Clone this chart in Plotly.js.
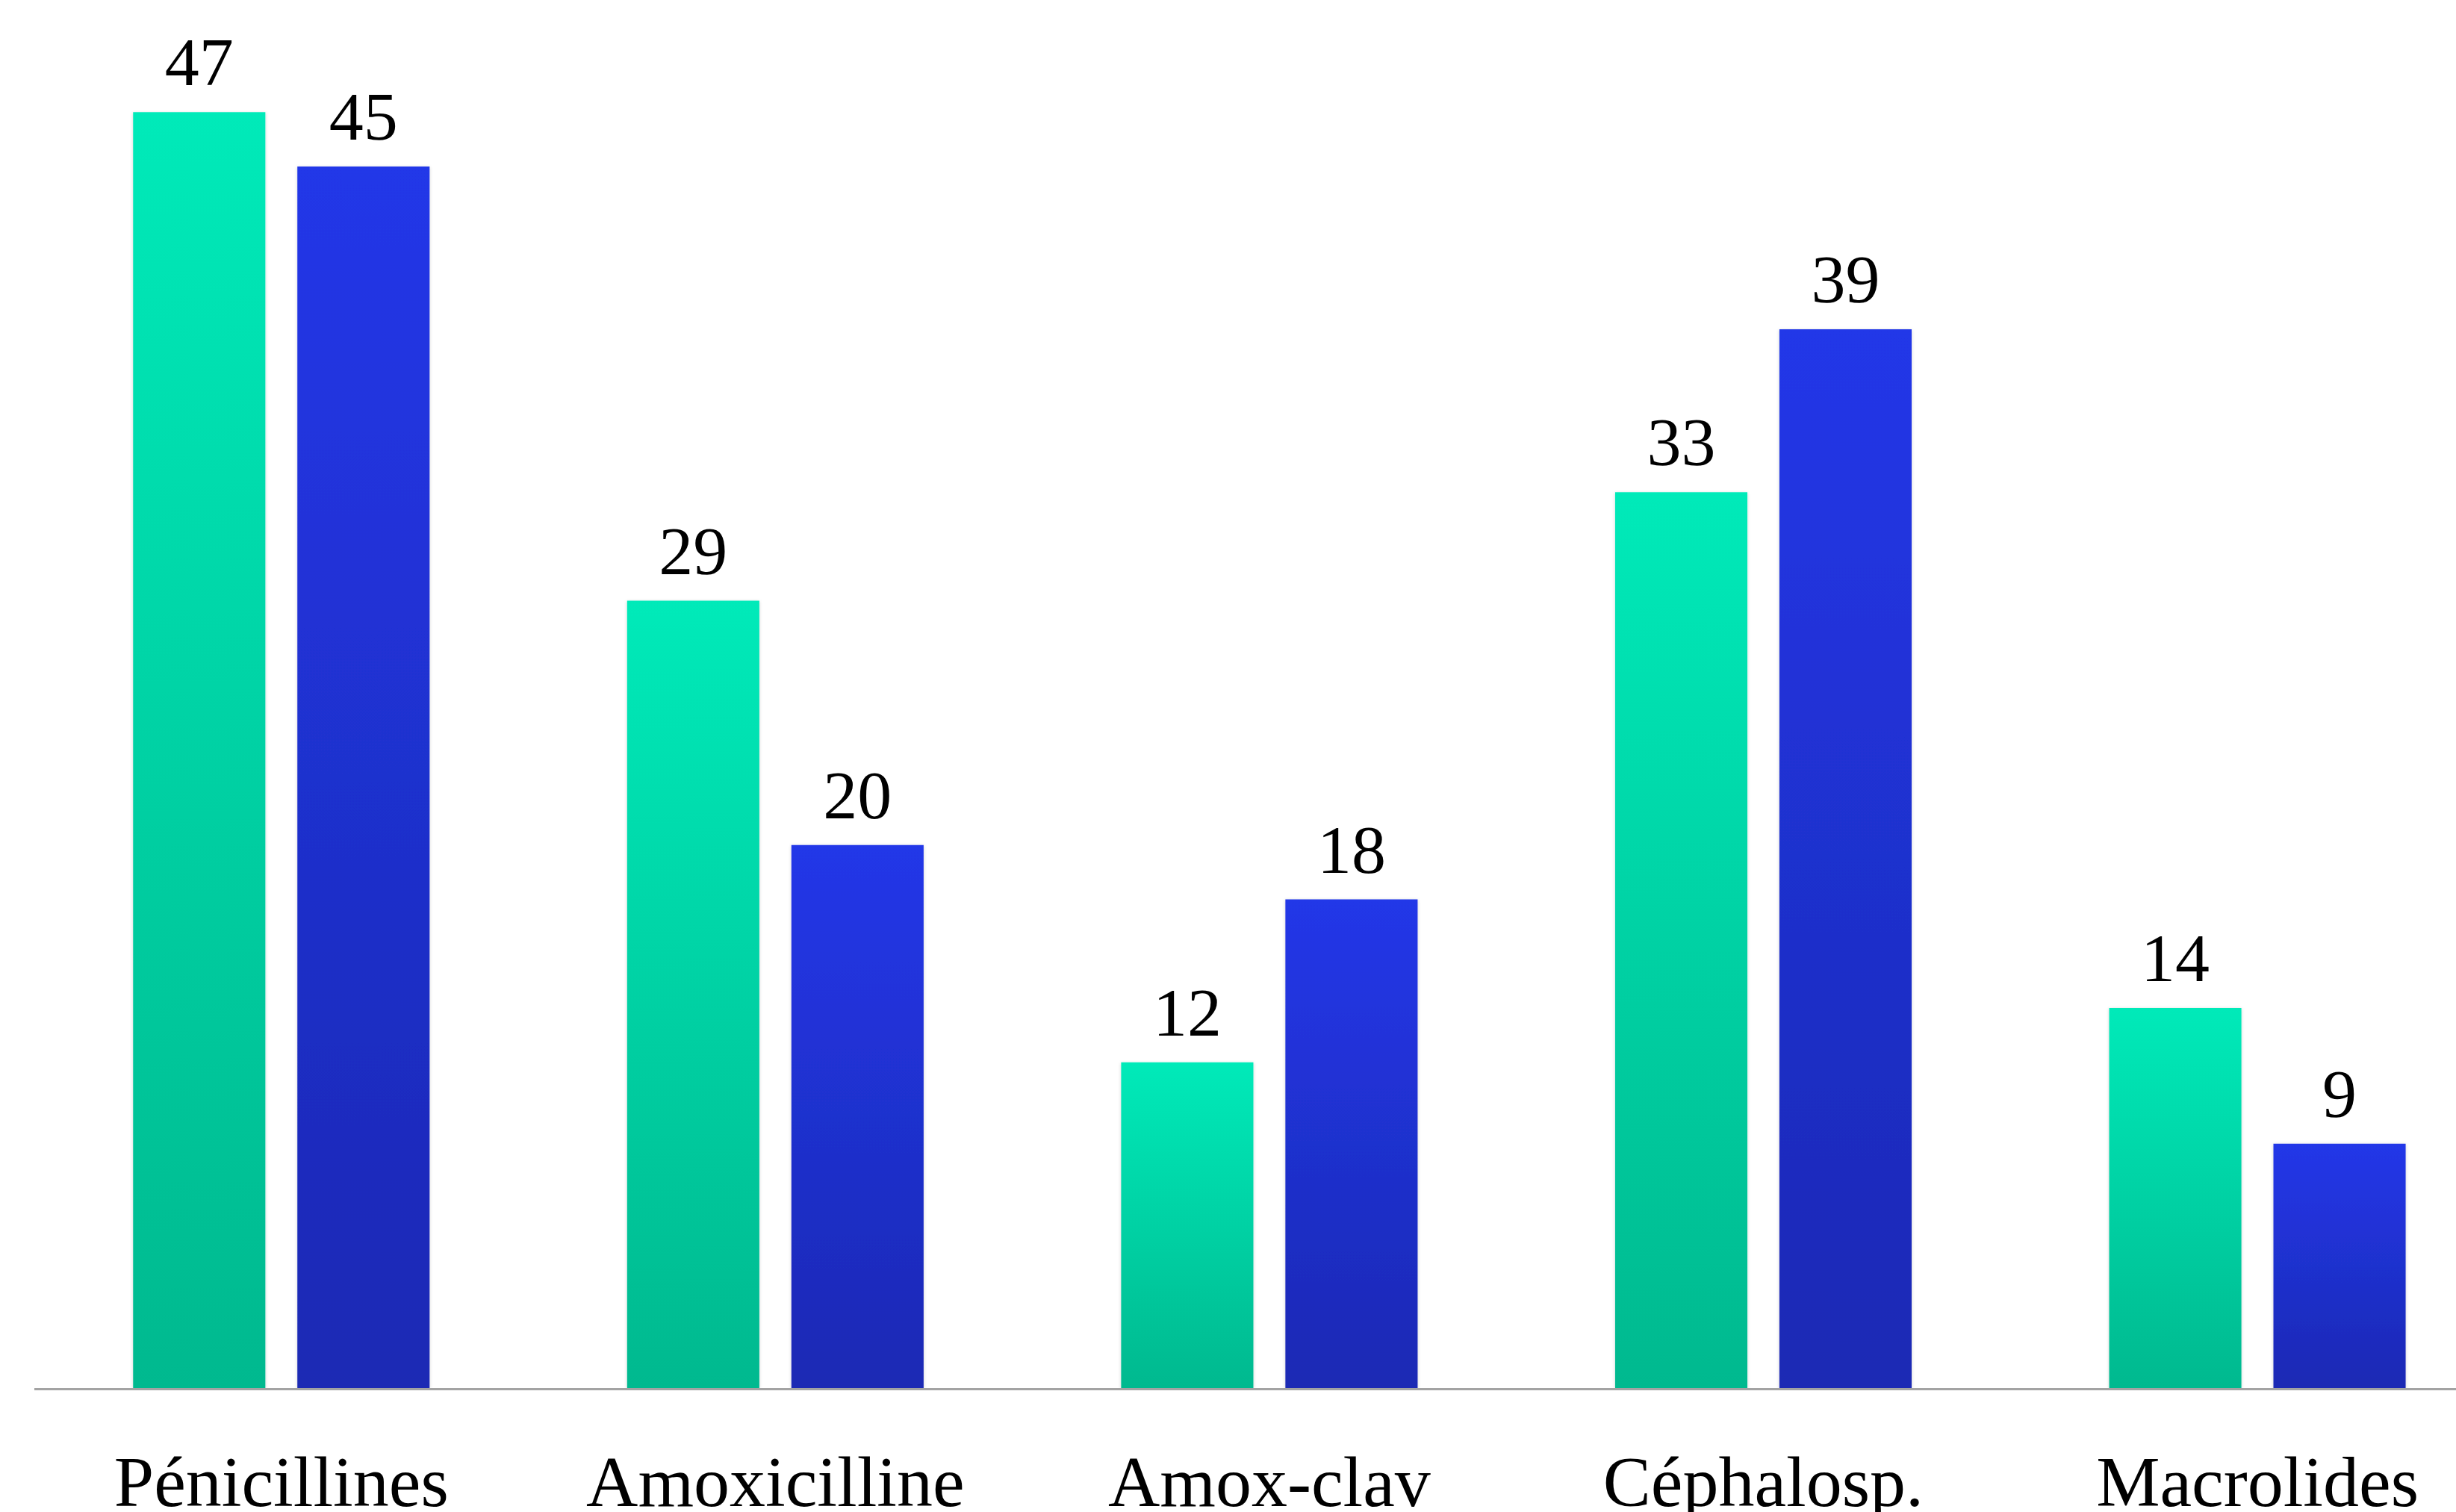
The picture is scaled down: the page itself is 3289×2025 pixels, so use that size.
<!DOCTYPE html>
<html>
<head>
<meta charset="utf-8">
<script src="https://cdn.plot.ly/plotly-3.0.1.min.js"></script>
<style>
  html, body { margin: 0; padding: 0; background: #ffffff; }
  #chart { width: 3289px; height: 2025px; }
</style>
</head>
<body>
<div id="chart"></div>
<script>
// ---- Data ----
const categories = ['Pénicillines', 'Amoxicilline', 'Amox-clav', 'Céphalosp.', 'Macrolides'];
const seriesA = [47, 29, 12, 33, 14];
const seriesB = [45, 20, 18, 39, 9];
const seriesNames = ['Série 1', 'Série 2'];

// ---- Styles ----
const FONT = '"Liberation Serif", "Times New Roman", "DejaVu Serif", serif';
const LABEL_LIFT = 13;
const gradients = [
  { id: 'gradGreen', top: '#00eab9', bottom: '#00b98f', base: '#00d1a4' },
  { id: 'gradBlue',  top: '#2337e8', bottom: '#1b29b4', base: '#1f30ce' }
];

function barTrace(values, name, g) {
  return {
    type: 'bar',
    x: categories,
    y: values,
    name: name,
    marker: { color: g.base, line: { width: 0 } },
    texttemplate: '%{y}',
    textposition: 'outside',
    textfont: { family: FONT, size: 92, color: '#000000' },
    cliponaxis: false,
    hoverinfo: 'x+y'
  };
}

const data = [
  barTrace(seriesA, seriesNames[0], gradients[0]),
  barTrace(seriesB, seriesNames[1], gradients[1])
];

const layout = {
  width: 3289,
  height: 2025,
  margin: { l: 46, r: 0, t: 0, b: 166, pad: 0 },
  paper_bgcolor: '#ffffff',
  plot_bgcolor: '#ffffff',
  showlegend: false,
  barmode: 'group',
  bargap: 0.335,
  bargroupgap: 0.195,
  font: { family: FONT, color: '#000000' },
  xaxis: {
    type: 'category',
    range: [-0.5, 4.402],
    showline: true,
    linecolor: '#a3a3a3',
    linewidth: 3,
    ticks: '',
    showgrid: false,
    zeroline: false,
    tickfont: { family: FONT, size: 96, color: '#000000' },
    ticklabelstandoff: 40,
    fixedrange: true
  },
  yaxis: {
    range: [0, 51.13],
    visible: false,
    showgrid: false,
    zeroline: false,
    fixedrange: true
  }
};

function applyGradients(gd) {
  const svg = gd.querySelector('svg.main-svg');
  if (!svg) return;
  let defs = svg.querySelector('defs');
  const NS = 'http://www.w3.org/2000/svg';
  if (!defs) { defs = document.createElementNS(NS, 'defs'); svg.insertBefore(defs, svg.firstChild); }
  gradients.forEach(g => {
    if (defs.querySelector('#' + g.id)) return;
    const lg = document.createElementNS(NS, 'linearGradient');
    lg.setAttribute('id', g.id);
    lg.setAttribute('x1', '0'); lg.setAttribute('y1', '0');
    lg.setAttribute('x2', '0'); lg.setAttribute('y2', '1');
    [[0, g.top], [1, g.bottom]].forEach(([o, c]) => {
      const st = document.createElementNS(NS, 'stop');
      st.setAttribute('offset', String(o));
      st.setAttribute('stop-color', c);
      lg.appendChild(st);
    });
    defs.appendChild(lg);
  });
  if (!defs.querySelector('#barShadow')) {
    const f = document.createElementNS(NS, 'filter');
    f.setAttribute('id', 'barShadow');
    f.setAttribute('x', '-10%'); f.setAttribute('y', '-5%');
    f.setAttribute('width', '120%'); f.setAttribute('height', '110%');
    const ds = document.createElementNS(NS, 'feDropShadow');
    ds.setAttribute('dx', '0'); ds.setAttribute('dy', '1');
    ds.setAttribute('stdDeviation', '2');
    ds.setAttribute('flood-color', '#000000');
    ds.setAttribute('flood-opacity', '0.18');
    f.appendChild(ds);
    defs.appendChild(f);
  }
  const traces = gd.querySelectorAll('.barlayer .trace');
  traces.forEach((tr, i) => {
    const g = gradients[i % gradients.length];
    tr.querySelectorAll('.point path').forEach(p => {
      p.style.fill = 'url(#' + g.id + ')';
      p.setAttribute('filter', 'url(#barShadow)');
    });
    tr.querySelectorAll('.point text.bartext').forEach(t => {
      if (t.getAttribute('data-lifted')) return;
      const y = parseFloat(t.getAttribute('y') || '0');
      t.setAttribute('y', String(y - LABEL_LIFT));
      t.querySelectorAll('tspan[y]').forEach(ts => {
        ts.setAttribute('y', String(parseFloat(ts.getAttribute('y')) - LABEL_LIFT));
      });
      t.setAttribute('data-lifted', '1');
    });
  });
}

const gd = document.getElementById('chart');
Plotly.newPlot(gd, data, layout, { staticPlot: true, displayModeBar: false }).then(() => {
  applyGradients(gd);
  gd.on && gd.on('plotly_afterplot', () => applyGradients(gd));
});
</script>
</body>
</html>
